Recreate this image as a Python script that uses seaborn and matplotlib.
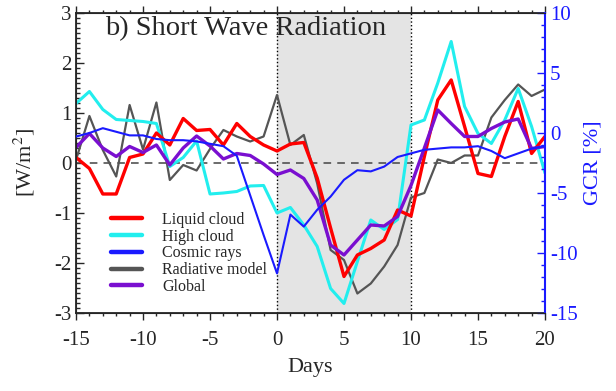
import pandas as pd
import matplotlib
matplotlib.use("Agg")
from matplotlib import pyplot as plt
from matplotlib.ticker import MultipleLocator
from matplotlib.lines import Line2D
import seaborn as sns

## Superposed epoch values (one value per day)
days = list(range(-15, 21))

liquid_cloud = [0.11, -0.11, -0.62, -0.62, 0.11, 0.18, 0.6, 0.36, 0.89, 0.65, 0.67, 0.36, 0.79, 0.53, 0.36, 0.24,
                0.38, 0.41, -0.3, -1.3, -2.27, -1.84, -1.71, -1.54, -0.94, -1.06,
                0.13, 1.26, 1.66, 0.73, -0.21, -0.27, 0.53, 1.23, 0.19, 0.53]
high_cloud = [1.19, 1.43, 1.07, 0.87, 0.85, 0.83, 0.79, -0.07, 0.11, 0.44, -0.62, -0.6, -0.57, -0.46, -0.45, -1.0,
              -0.89, -1.24, -1.67, -2.51, -2.81, -1.97, -1.14, -1.33, -1.13, 0.76,
              0.86, 1.6, 2.43, 1.13, 0.59, 0.39, 0.86, 1.49, 0.73, -0.2]
radiative_model = [0.06, 0.94, 0.26, -0.27, 1.16, 0.27, 1.21, -0.34, -0.04, -0.15, 0.28, 0.66, 0.53, 0.43, 0.53, 1.36,
                   0.36, 0.56, -0.41, -1.74, -1.94, -2.61, -2.41, -2.07, -1.64, -0.69,
                   -0.6, 0.07, 0.0, 0.15, 0.15, 0.91, 1.26, 1.57, 1.34, 1.47]
global_swr = [0.31, 0.59, 0.3, 0.13, 0.33, 0.21, 0.36, -0.04, 0.3, 0.54, 0.34, 0.08, 0.19, 0.15, -0.02, -0.23,
              -0.14, -0.31, -0.74, -1.64, -1.84, -1.54, -1.24, -1.26, -1.07, -0.45,
              0.3, 1.06, 0.79, 0.53, 0.53, 0.69, 0.82, 0.88, 0.29, 0.33]
## Cosmic rays on the GCR [%] axis
cosmic_rays = [-0.3, 0.0, 0.4, 0.1, -0.2, -0.2, -0.5, -0.6, -0.6, -0.7, -0.9, -1.1, -1.9, -5.2, -8.5, -11.7,
               -6.8, -7.8, -6.4, -5.3, -3.9, -3.1, -3.2, -2.8, -2.0, -1.7,
               -1.4, -1.3, -1.2, -1.2, -1.1, -1.5, -2.1, -1.7, -1.3, -1.1]

labels = ['Liquid cloud', 'High cloud', 'Cosmic rays', 'Radiative model', 'Global']
colors = ['#ff0000', '#22eeee', '#1a1aff', '#555555', '#7a0fd0']

sns.set_style('ticks')
plt.rcParams['font.family'] = ['Liberation Serif', 'DejaVu Serif']
plt.rcParams['mathtext.fontset'] = 'stix'
plt.rcParams['axes.unicode_minus'] = False

df = pd.DataFrame({'Days': days, 'Liquid cloud': liquid_cloud, 'High cloud': high_cloud,
                   'Radiative model': radiative_model, 'Global': global_swr, 'Cosmic rays': cosmic_rays})

fig = plt.figure(figsize=(6.16, 3.91), dpi=100)
ax = fig.add_axes([0.1234, 0.1995, 0.7613, 0.7673])

## Event window shading and markers
ax.axvspan(0, 10, color='#e4e4e4', lw=0, zorder=0)
ax.axvline(0, color='k', ls=':', lw=1.0, zorder=1)
ax.axvline(10, color='k', ls=':', lw=1.0, zorder=1)
ax.axhline(0, color='#444444', ls=(0, (5, 4)), lw=1.1, zorder=1)

## Left axis series
sns.lineplot(data=df, x='Days', y='Radiative model', color=colors[3], lw=1.6, ax=ax, zorder=3)
sns.lineplot(data=df, x='Days', y='High cloud', color=colors[1], lw=2.2, ax=ax, zorder=4)
sns.lineplot(data=df, x='Days', y='Liquid cloud', color=colors[0], lw=2.4, ax=ax, zorder=5)
sns.lineplot(data=df, x='Days', y='Global', color=colors[4], lw=2.4, ax=ax, zorder=6)

ax.set_xlim(-15, 20)
ax.set_ylim(-3, 3)
ax.xaxis.set_major_locator(MultipleLocator(5))
ax.xaxis.set_minor_locator(MultipleLocator(1))
ax.yaxis.set_major_locator(MultipleLocator(1))
ax.yaxis.set_minor_locator(MultipleLocator(0.1))
ax.tick_params(axis='x', which='both', direction='out', top=True, labelsize=15, width=1.0, pad=8)
ax.tick_params(axis='x', which='major', length=5)
ax.tick_params(axis='x', which='minor', length=2.5)
ax.tick_params(axis='y', which='both', direction='in', labelsize=15, width=1.0)
ax.tick_params(axis='y', which='major', length=6)
ax.tick_params(axis='y', which='minor', length=3)
ax.set_xlabel('Days', fontsize=16, labelpad=6)
ax.set_ylabel('[W/m$^2$]', fontsize=16, labelpad=12)
for s in ax.spines.values():
    s.set_linewidth(1.3)

ax.text(0.062, 0.925, 'b) Short Wave Radiation', transform=ax.transAxes, fontsize=20.5, va='baseline', zorder=10)

## Right axis: cosmic rays
ax2 = ax.twinx()
sns.lineplot(data=df, x='Days', y='Cosmic rays', color=colors[2], lw=1.5, ax=ax2, zorder=3)
ax2.set_ylim(-15, 10)
ax2.yaxis.set_major_locator(MultipleLocator(5))
ax2.yaxis.set_minor_locator(MultipleLocator(1))
ax2.tick_params(axis='y', which='both', direction='in', colors='#1a1aff', labelsize=15, width=1.0)
ax2.tick_params(axis='y', which='major', length=6)
ax2.tick_params(axis='y', which='minor', length=3)
ax2.spines['right'].set_color('#1a1aff')
ax2.spines['right'].set_linewidth(1.5)
ax2.set_ylabel('GCR [%]', color='#1a1aff', fontsize=16, labelpad=4)
ax2.set_xlim(-15, 20)

## Legend in the reference order
handles = [Line2D([0], [0], color=c, lw=3.2) for c in colors]
ax.legend(handles, labels, loc='upper left', bbox_to_anchor=(0.075, 0.337), frameon=False, fontsize=11.5,
          handlelength=1.9, handletextpad=1.3, labelspacing=0.05, borderpad=0, borderaxespad=0)

fig.savefig('out.png', dpi=100)
